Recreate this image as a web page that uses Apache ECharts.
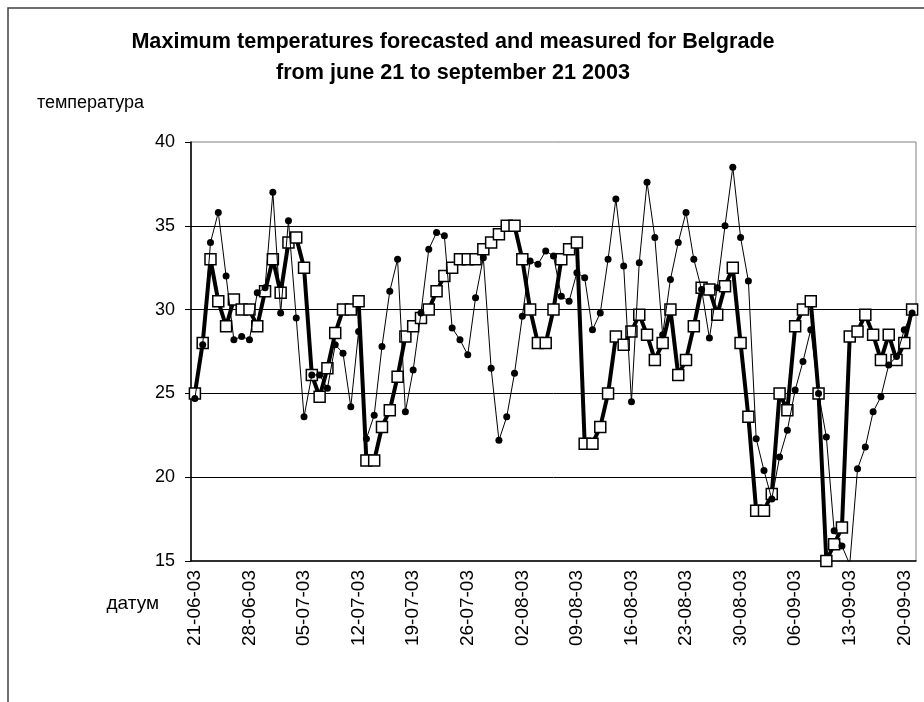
<!DOCTYPE html>
<html>
<head>
<meta charset="utf-8">
<script src="https://cdn.jsdelivr.net/npm/echarts@6/dist/echarts.min.js"></script>
<style>
  html, body { margin: 0; padding: 0; background: #fff; }
  #chart { width: 924px; height: 702px; }
</style>
</head>
<body>
<div id="chart"></div>
<script>
// one category per day, 21-06-03 .. 21-09-03
const days = [];
for (let d = new Date(2003, 5, 21); d <= new Date(2003, 8, 21); d.setDate(d.getDate() + 1)) {
  const dd = String(d.getDate()).padStart(2, '0');
  const mm = String(d.getMonth() + 1).padStart(2, '0');
  days.push(dd + '-' + mm + '-03');
}

// forecasted maximum (squares, thick line)
const forecast = [
  25.0, 28.0, 33.0, 30.5, 29.0, 30.6, 30.0, 30.0, 29.0, 31.1,
  33.0, 31.0, 34.0, 34.3, 32.5, 26.1, 24.8, 26.5, 28.6, 30.0,
  30.0, 30.5, 21.0, 21.0, 23.0, 24.0, 26.0, 28.4, 29.0, 29.5,
  30.0, 31.1, 32.0, 32.5, 33.0, 33.0, 33.0, 33.6, 34.0, 34.5,
  35.0, 35.0, 33.0, 30.0, 28.0, 28.0, 30.0, 33.0, 33.6, 34.0,
  22.0, 22.0, 23.0, 25.0, 28.4, 27.9, 28.7, 29.7, 28.5, 27.0,
  28.0, 30.0, 26.1, 27.0, 29.0, 31.3, 31.2, 29.7, 31.4, 32.5,
  28.0, 23.6, 18.0, 18.0, 19.0, 25.0, 24.0, 29.0, 30.0, 30.5,
  25.0, 15.0, 16.0, 17.0, 28.4, 28.7, 29.7, 28.5, 27.0, 28.5,
  27.0, 28.0, 30.0
];

// measured maximum (dots, thin line)
const measured = [
  24.7, 27.9, 34.0, 35.8, 32.0, 28.2, 28.4, 28.2, 31.0, 31.3,
  37.0, 29.8, 35.3, 29.5, 23.6, 26.1, 26.1, 25.3, 27.9, 27.4,
  24.2, 28.7, 22.3, 23.7, 27.8, 31.1, 33.0, 23.9, 26.4, 29.8,
  33.6, 34.6, 34.4, 28.9, 28.2, 27.3, 30.7, 33.1, 26.5, 22.2,
  23.6, 26.2, 29.6, 32.9, 32.7, 33.5, 33.2, 30.8, 30.5, 32.2,
  31.9, 28.8, 29.8, 33.0, 36.6, 32.6, 24.5, 32.8, 37.6, 34.3,
  28.5, 31.8, 34.0, 35.8, 33.0, 31.2, 28.3, 31.3, 35.0, 38.5,
  34.3, 31.7, 22.3, 20.4, 18.7, 21.2, 22.8, 25.2, 26.9, 28.8,
  25.0, 22.4, 16.8, 15.9, 14.8, 20.5, 21.8, 23.9, 24.8, 26.7,
  27.2, 28.8, 29.8
];

const yTicks = [15, 20, 25, 30, 35, 40];

const font = '"Liberation Sans", Arial, sans-serif';
const chart = echarts.init(document.getElementById('chart'));

chart.setOption({
  animation: false,
  title: {
    text: 'Maximum temperatures forecasted and measured for Belgrade\nfrom june 21 to september 21 2003',
    left: 448,
    top: 22,
    textAlign: 'center',
    textStyle: { fontFamily: font, fontSize: 21.6, fontWeight: 'bold', color: '#000', lineHeight: 31 }
  },
  graphic: [
    {
      type: 'rect', silent: true,
      shape: { x: 8, y: 8, width: 940, height: 720 },
      style: { fill: 'none', stroke: '#404040', lineWidth: 1.5 }
    },
    {
      type: 'text', x: 144, y: 103,
      style: { text: 'температура', fontFamily: font, fontSize: 18, fill: '#000', textAlign: 'right', textVerticalAlign: 'middle' }
    },
    {
      type: 'text', x: 159, y: 604,
      style: { text: 'датум', fontFamily: font, fontSize: 19, fill: '#000', textAlign: 'right', textVerticalAlign: 'middle' }
    }
  ],
  grid: {
    left: 191, top: 142, right: 8, bottom: 141,
    show: true, borderColor: '#808080', borderWidth: 1,
    outerBoundsMode: 'none'
  },
  xAxis: {
    type: 'category',
    data: days,
    boundaryGap: true,
    axisLine: { lineStyle: { color: '#000', width: 1.5 } },
    axisTick: { interval: 6, length: 6, lineStyle: { color: '#000' } },
    axisLabel: { interval: 6, rotate: 90, margin: 9, fontFamily: font, fontSize: 19, color: '#000' },
    splitLine: { show: false }
  },
  yAxis: {
    type: 'value',
    min: yTicks[0],
    max: yTicks[yTicks.length - 1],
    interval: 5,
    axisLine: { show: true, lineStyle: { color: '#000', width: 1.5 } },
    axisTick: { show: true, length: 6, lineStyle: { color: '#000' } },
    axisLabel: { margin: 16, fontFamily: font, fontSize: 18, color: '#000' },
    splitLine: { showMinLine: false, showMaxLine: false, lineStyle: { color: '#000', width: 1 } }
  },
  series: [
    {
      name: 'forecast',
      type: 'line',
      data: forecast,
      showAllSymbol: true,
      symbol: 'rect',
      symbolSize: 11,
      itemStyle: { color: '#fff', borderColor: '#000', borderWidth: 1.5 },
      lineStyle: { color: '#000', width: 4 },
      z: 2
    },
    {
      name: 'measured',
      type: 'line',
      data: measured,
      showAllSymbol: true,
      symbol: 'circle',
      symbolSize: 7,
      itemStyle: { color: '#000' },
      lineStyle: { color: '#000', width: 1 },
      z: 3
    }
  ]
});
</script>
</body>
</html>
